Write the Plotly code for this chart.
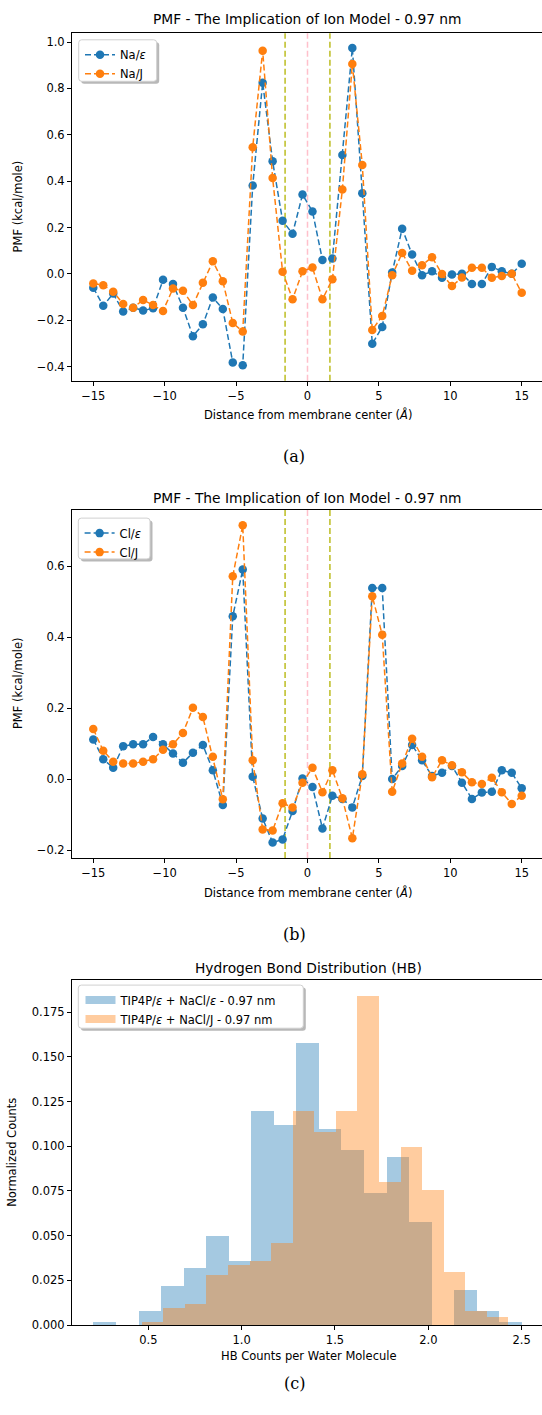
import plotly.graph_objects as go

W, H = 542, 1415

# ---------------- data ----------------
dist = [-15.0, -14.302, -13.605, -12.907, -12.209, -11.512, -10.814, -10.116,
        -9.419, -8.721, -8.023, -7.326, -6.628, -5.930, -5.233, -4.535,
        -3.837, -3.140, -2.442, -1.744, -1.047, -0.349, 0.349, 1.047,
        1.744, 2.442, 3.140, 3.837, 4.535, 5.233, 5.930, 6.628,
        7.326, 8.023, 8.721, 9.419, 10.116, 10.814, 11.512, 12.209,
        12.907, 13.605, 14.302, 15.0]

na_eps = [-0.060, -0.138, -0.085, -0.163, -0.146, -0.158, -0.149, -0.026,
          -0.044, -0.146, -0.269, -0.218, -0.102, -0.152, -0.383, -0.394,
          0.381, 0.825, 0.486, 0.229, 0.173, 0.342, 0.269, 0.060,
          0.066, 0.513, 0.974, 0.348, -0.302, -0.229, 0.006, 0.195,
          0.083, -0.006, 0.011, -0.017, -0.003, 0.000, -0.044, -0.044,
          0.030, 0.011, 0.000, 0.044]
na_j = [-0.042, -0.049, -0.077, -0.130, -0.146, -0.113, -0.135, -0.160,
        -0.063, -0.073, -0.135, -0.039, 0.054, -0.032, -0.212, -0.249,
        0.546, 0.963, 0.414, 0.009, -0.110, 0.011, 0.027, -0.110,
        -0.023, 0.364, 0.905, 0.470, -0.242, -0.182, -0.006, 0.090,
        0.013, 0.037, 0.072, -0.001, -0.053, -0.016, 0.026, 0.026,
        -0.017, -0.009, 0.000, -0.082]

cl_eps = [0.112, 0.056, 0.032, 0.093, 0.098, 0.098, 0.119, 0.098,
          0.072, 0.046, 0.074, 0.096, 0.025, -0.073, 0.459, 0.591,
          0.007, -0.111, -0.179, -0.170, -0.090, 0.002, -0.022, -0.139,
          -0.047, -0.056, -0.080, 0.009, 0.539, 0.539, 0.000, 0.037,
          0.096, 0.053, 0.009, 0.018, 0.037, -0.010, -0.056, -0.038,
          -0.036, 0.025, 0.018, -0.026]
cl_j = [0.141, 0.080, 0.049, 0.044, 0.044, 0.049, 0.056, 0.083,
        0.098, 0.130, 0.201, 0.175, 0.063, -0.057, 0.572, 0.716,
        0.053, -0.142, -0.145, -0.068, -0.080, -0.010, 0.032, -0.037,
        0.025, -0.054, -0.167, 0.014, 0.516, 0.407, -0.036, 0.044,
        0.114, 0.063, 0.005, 0.053, 0.039, 0.019, -0.009, -0.014,
        0.004, -0.037, -0.070, -0.047]

membrane_edges = [-1.57, 1.57]
membrane_center = [0.0]

hb_eps_edges = [0.2054, 0.3262, 0.4470, 0.5678, 0.6886, 0.8094, 0.9302, 1.0510,
                1.1718, 1.2926, 1.4134, 1.5342, 1.6550, 1.7758, 1.8966, 2.0174,
                2.1382, 2.2590, 2.3798, 2.5006]
hb_eps_counts = [0.002, 0.0, 0.008, 0.022, 0.032, 0.050, 0.036, 0.120, 0.112,
                 0.158, 0.110, 0.098, 0.074, 0.094, 0.058, 0.0, 0.020, 0.008, 0.002]
hb_j_edges = [0.4646, 0.5801, 0.6956, 0.8111, 0.9266, 1.0421, 1.1576, 1.2731,
              1.3886, 1.5041, 1.6196, 1.7351, 1.8506, 1.9661, 2.0816, 2.1971,
              2.3126, 2.4281]
hb_j_counts = [0.002, 0.010, 0.012, 0.028, 0.034, 0.036, 0.046, 0.120, 0.108,
               0.120, 0.184, 0.080, 0.100, 0.076, 0.030, 0.008, 0.005]

# ---------------- styling ----------------
BLUE = "#1f77b4"
ORANGE = "#ff7f0e"
BLUE_A = "rgba(31,119,180,0.4)"
ORANGE_A = "rgba(255,127,14,0.4)"
FONT = "DejaVu Sans"
TICK = 11.5
TITLE = 13.8


def px(x):
    return x / W


def py(y):
    return 1 - y / H


fig = go.Figure()

line_style = dict(width=1.5, dash="6px,3px")


def add_pmf(xa, ya, leg, s1, n1, s2, n2):
    fig.add_trace(go.Scatter(x=dist, y=s1, mode="lines+markers", name=n1,
                             line=dict(color=BLUE, **line_style),
                             marker=dict(color=BLUE, size=8.5),
                             xaxis=xa, yaxis=ya, legend=leg))
    fig.add_trace(go.Scatter(x=dist, y=s2, mode="lines+markers", name=n2,
                             line=dict(color=ORANGE, **line_style),
                             marker=dict(color=ORANGE, size=8.5),
                             xaxis=xa, yaxis=ya, legend=leg))


add_pmf("x", "y", "legend", na_eps, "Na/<i>ε</i>", na_j, "Na/J")
add_pmf("x2", "y2", "legend2", cl_eps, "Cl/<i>ε</i>", cl_j, "Cl/J")


def centers(edges):
    return [(a + b) / 2 for a, b in zip(edges[:-1], edges[1:])]


def widths(edges):
    return [b - a for a, b in zip(edges[:-1], edges[1:])]


hb_names = ["TIP4P/<i>ε</i> + NaCl/<i>ε</i> - 0.97 nm", "TIP4P/<i>ε</i> + NaCl/J - 0.97 nm"]
fig.add_trace(go.Bar(x=centers(hb_eps_edges), y=hb_eps_counts, width=widths(hb_eps_edges),
                     name=hb_names[0], showlegend=False,
                     marker=dict(color=BLUE_A, line=dict(width=0)),
                     xaxis="x3", yaxis="y3"))
fig.add_trace(go.Bar(x=centers(hb_j_edges), y=hb_j_counts, width=widths(hb_j_edges),
                     name=hb_names[1], showlegend=False,
                     marker=dict(color=ORANGE_A, line=dict(width=0)),
                     xaxis="x3", yaxis="y3"))
# legend entries drawn as wide patches (matplotlib-like rectangles)
for nm, col in zip(hb_names, [BLUE_A, ORANGE_A]):
    fig.add_trace(go.Scatter(x=[None], y=[None], mode="lines", name=nm,
                             line=dict(color=col, width=8),
                             xaxis="x3", yaxis="y3", legend="legend3"))

# vertical reference lines
shapes = []
for xa, ya in [("x", "y"), ("x2", "y2")]:
    for xv in membrane_edges:
        shapes.append(dict(type="line", xref=xa, yref=f"{ya} domain",
                           x0=xv, x1=xv, y0=0, y1=1,
                           line=dict(color="#bcbd22", width=1.5, dash="6px,3px"), layer="below"))
    for xv in membrane_center:
        shapes.append(dict(type="line", xref=xa, yref=f"{ya} domain",
                           x0=xv, x1=xv, y0=0, y1=1,
                           line=dict(color="pink", width=1.5, dash="6px,3px"), layer="below"))


def rrect(x0, y0, x1, y1, r=3):
    # rounded rectangle path in paper coordinates from pixel coords
    pts = []
    X = lambda v: f"{px(v):.6f}"
    Y = lambda v: f"{py(v):.6f}"
    pts.append(f"M{X(x0 + r)},{Y(y0)}")
    pts.append(f"L{X(x1 - r)},{Y(y0)}")
    pts.append(f"Q{X(x1)},{Y(y0)} {X(x1)},{Y(y0 + r)}")
    pts.append(f"L{X(x1)},{Y(y1 - r)}")
    pts.append(f"Q{X(x1)},{Y(y1)} {X(x1 - r)},{Y(y1)}")
    pts.append(f"L{X(x0 + r)},{Y(y1)}")
    pts.append(f"Q{X(x0)},{Y(y1)} {X(x0)},{Y(y1 - r)}")
    pts.append(f"L{X(x0)},{Y(y0 + r)}")
    pts.append(f"Q{X(x0)},{Y(y0)} {X(x0 + r)},{Y(y0)}")
    return " ".join(pts) + " Z"


legend_boxes = [(78.7, 40, 156.7, 81.7), (78.3, 520.7, 150, 561.7), (78.3, 990, 303.3, 1033.3)]
for (x0, y0, x1, y1) in legend_boxes:
    shapes.append(dict(type="path", xref="paper", yref="paper",
                       path=rrect(x0 + 2.5, y0 + 2.5, x1 + 2.5, y1 + 2.5),
                       fillcolor="#b8b8b8", line=dict(width=0), layer="above"))
    shapes.append(dict(type="path", xref="paper", yref="paper",
                       path=rrect(x0, y0, x1, y1),
                       fillcolor="white", line=dict(color="#d0d0d0", width=1), layer="above"))

axis_common = dict(showline=True, linecolor="black", linewidth=1, ticks="outside",
                   ticklen=4, tickcolor="black", showgrid=False, zeroline=False,
                   tickfont=dict(family=FONT, size=TICK, color="black"))

layout = dict(
    width=W, height=H, margin=dict(l=0, r=0, t=0, b=0),
    paper_bgcolor="white", plot_bgcolor="white",
    font=dict(family=FONT, size=TICK, color="black"),
    barmode="overlay", bargap=0,
    shapes=shapes,
)

layout["xaxis"] = dict(domain=[px(72), 1], range=[-16.49, 16.42], anchor="y",
                       tickvals=[-15, -10, -5, 0, 5, 10, 15], mirror=True, **axis_common)
layout["yaxis"] = dict(domain=[py(382.7), py(33.3)], range=[-0.4616, 1.0386], anchor="x",
                       tickvals=[-0.4, -0.2, 0.0, 0.2, 0.4, 0.6, 0.8, 1.0], tickformat=".1f",
                       **axis_common)
layout["xaxis2"] = dict(domain=[px(72), 1], range=[-16.49, 16.42], anchor="y2",
                        tickvals=[-15, -10, -5, 0, 5, 10, 15], mirror=True, **axis_common)
layout["yaxis2"] = dict(domain=[py(862.3), py(512.3)], range=[-0.2226, 0.7596], anchor="x2",
                        tickvals=[-0.2, 0.0, 0.2, 0.4, 0.6], tickformat=".1f", **axis_common)
layout["xaxis3"] = dict(domain=[px(71.9), 1], range=[0.0907, 2.609], anchor="y3",
                        tickvals=[0.5, 1.0, 1.5, 2.0, 2.5], tickformat=".1f", mirror=True,
                        **axis_common)
layout["yaxis3"] = dict(domain=[py(1331.7), py(984.5)], range=[0, 0.1932], anchor="x3",
                        tickvals=[0, 0.025, 0.05, 0.075, 0.1, 0.125, 0.15, 0.175],
                        tickformat=".3f", **axis_common)

leg_common = dict(bgcolor="rgba(0,0,0,0)", borderwidth=0,
                  font=dict(family=FONT, size=TICK, color="black"),
                  xanchor="left", yanchor="top", tracegroupgap=0)
layout["legend"] = dict(x=px(80), y=py(40.5), **leg_common)
layout["legend2"] = dict(x=px(79.6), y=py(521.2), **leg_common)
layout["legend3"] = dict(x=px(80.5), y=py(990.5), **leg_common)

ann = []


def text(x, y, s, size, family=FONT, angle=0):
    ann.append(dict(x=px(x), y=py(y), xref="paper", yref="paper", text=s, showarrow=False,
                    xanchor="center", yanchor="middle", textangle=angle,
                    font=dict(family=family, size=size, color="black")))


text(307.5, 19, "PMF - The Implication of Ion Model - 0.97 nm", TITLE)
text(307.5, 500, "PMF - The Implication of Ion Model - 0.97 nm", TITLE)
text(308.5, 973, "Hydrogen Bond Distribution (HB)", TITLE)
text(307.5, 417, "Distance from membrane center (<i>Å</i>)", TICK)
text(307.5, 897, "Distance from membrane center (<i>Å</i>)", TICK)
text(308.5, 1363, "HB Counts per Water Molecule", TICK)
text(17.5, 208, "PMF (kcal/mole)", TICK, angle=-90)
text(17.5, 687, "PMF (kcal/mole)", TICK, angle=-90)
text(12.5, 1158, "Normalized Counts", TICK, angle=-90)
text(294, 459, "(a)", 16, family="DejaVu Serif")
text(294, 939, "(b)", 16, family="DejaVu Serif")
text(294, 1390, "(c)", 16, family="DejaVu Serif")
layout["annotations"] = ann

fig.update_layout(**layout)
fig.write_html("out.html")
